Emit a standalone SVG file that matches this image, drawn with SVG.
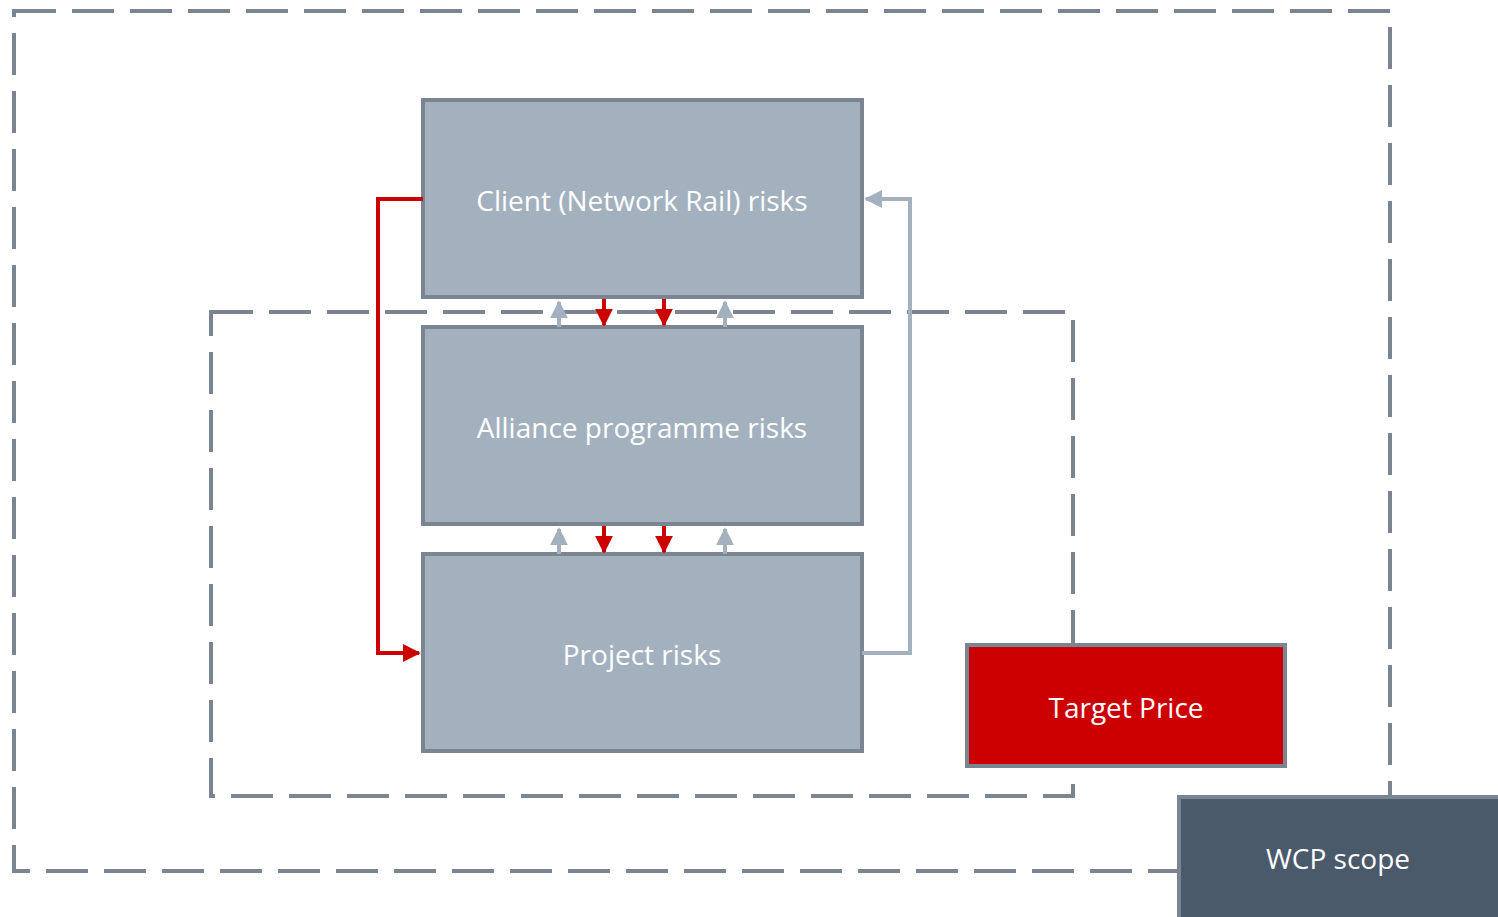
<svg xmlns="http://www.w3.org/2000/svg" width="1498" height="917" viewBox="0 0 1498 917">
<defs>
<style>
.scope{fill:none;stroke:#7a8591;stroke-width:4;stroke-dasharray:42 16}
.box{fill:#a3b1bf;stroke:#7a8591;stroke-width:4}
.lbl{font-family:"Open Sans","Noto Sans",sans-serif;font-size:28px;fill:#ffffff;text-anchor:middle;dominant-baseline:central}
.red{fill:none;stroke:#cc0000;stroke-width:4}
.gray{fill:none;stroke:#a3b1bf;stroke-width:4}
</style>
<marker id="ar" viewBox="0 0 10 10" refX="9" refY="5" markerWidth="4.5" markerHeight="4.5" orient="auto" markerUnits="strokeWidth"><path d="M0,0 L10,5 L0,10 z" fill="#cc0000"/></marker>
<marker id="ag" viewBox="0 0 10 10" refX="9" refY="5" markerWidth="4.5" markerHeight="4.5" orient="auto" markerUnits="strokeWidth"><path d="M0,0 L10,5 L0,10 z" fill="#a3b1bf"/></marker>
</defs>
<g id="wcp-scope-boundary"><rect class="scope" x="14" y="11" width="1376" height="860"/></g>
<g id="target-price-boundary"><rect class="scope" x="211" y="312" width="862" height="484"/></g>
<g id="client"><rect class="box" x="423" y="100" width="439" height="197"/><text class="lbl" x="642" y="200">Client (Network Rail) risks</text></g>
<g id="alliance"><rect class="box" x="423" y="327" width="439" height="197"/><text class="lbl" x="642" y="427">Alliance programme risks</text></g>
<g id="project"><rect class="box" x="423" y="554" width="439" height="197"/><text class="lbl" x="642" y="654">Project risks</text></g>
<g id="connectors">
<path class="red" d="M423,199 H378 V653 H419" marker-end="url(#ar)"/>
<path class="gray" d="M862,653 H910 V199 H866" marker-end="url(#ag)"/>
<path class="gray" d="M559,327 V302" marker-end="url(#ag)"/>
<path class="gray" d="M725,327 V302" marker-end="url(#ag)"/>
<path class="red" d="M604,299 V325" marker-end="url(#ar)"/>
<path class="red" d="M664,299 V325" marker-end="url(#ar)"/>
<path class="gray" d="M559,554 V529" marker-end="url(#ag)"/>
<path class="gray" d="M725,554 V529" marker-end="url(#ag)"/>
<path class="red" d="M604,526 V552" marker-end="url(#ar)"/>
<path class="red" d="M664,526 V552" marker-end="url(#ar)"/>
</g>
<g id="target-price"><rect x="967" y="645" width="318" height="121" fill="#cc0000" stroke="#7a8591" stroke-width="4"/><text class="lbl" x="1126" y="707">Target Price</text></g>
<g id="wcp-scope"><rect x="1179" y="797" width="321" height="122" fill="#4a5a6a" stroke="#7a8591" stroke-width="4"/><text class="lbl" x="1338" y="858">WCP scope</text></g>
</svg>
